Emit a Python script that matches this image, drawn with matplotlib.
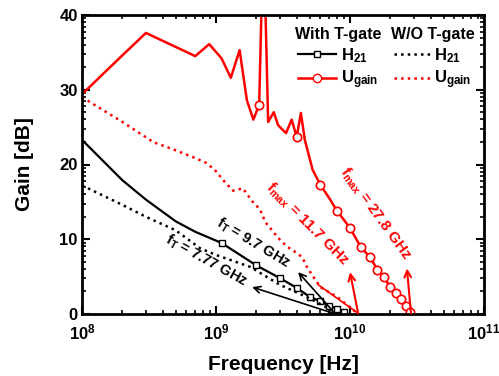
import matplotlib
matplotlib.use('Agg')
import matplotlib.pyplot as plt
from matplotlib.lines import Line2D
import numpy as np

plt.rcParams['font.family'] = ['Liberation Sans', 'DejaVu Sans']
plt.rcParams['font.weight'] = 'bold'
plt.rcParams['mathtext.fontset'] = 'custom'
plt.rcParams['mathtext.rm'] = 'Liberation Sans:bold'
plt.rcParams['mathtext.it'] = 'Liberation Sans:bold'
plt.rcParams['mathtext.bf'] = 'Liberation Sans:bold'
plt.rcParams['mathtext.default'] = 'rm'

# H21 with T-gate
f_h_t = [1e8, 2e8, 3e8, 5e8, 7e8, 1.1e9, 2e9, 3e9, 4e9, 5e9, 6e9, 7e9, 8e9, 9e9, 9.7e9]
g_h_t = [23.3, 17.9, 15.3, 12.4, 11.0, 9.5, 6.5, 4.8, 3.5, 2.3, 1.7, 1.1, 0.7, 0.3, 0.0]
mk_h_t = [5, 6, 7, 8, 9, 10, 11, 12, 13]

# Ugain with T-gate
f_u_t = [1e8, 2e8, 3e8, 7e8, 8.9e8, 1.1e9, 1.29e9, 1.5e9, 1.7e9, 1.9e9, 2.1e9,
         2.22e9, 2.3e9, 2.45e9, 2.7e9, 2.9e9, 3.0e9, 3.33e9, 3.67e9, 4.0e9, 4.3e9,
         4.6e9, 5.26e9, 6e9, 7e9, 8e9, 9e9, 1e10, 1.1e10, 1.2e10, 1.3e10, 1.4e10,
         1.5e10, 1.6e10, 1.7e10, 1.8e10, 1.9e10, 2.0e10, 2.1e10, 2.2e10, 2.3e10,
         2.4e10, 2.5e10, 2.6e10, 2.7e10, 2.8e10, 2.85e10]
g_u_t = [29.4, 34.6, 37.6, 34.5, 36.1, 34.2, 31.6, 35.3, 28.6, 26.0, 28.0,
         46.0, 46.0, 25.7, 27.0, 25.3, 25.0, 24.2, 26.0, 23.7, 26.9,
         23.3, 19.3, 17.3, 15.5, 13.8, 12.6, 11.5, 10.2, 9.0, 8.3, 7.6,
         6.8, 5.9, 5.5, 5.0, 4.2, 3.6, 3.2, 2.8, 2.4,
         2.0, 1.5, 1.1, 0.7, 0.3, 0.0]
mk_u_t = [10, 19, 23, 25, 27, 29, 31, 33, 35, 37, 39, 41, 43, 45]

# H21 without T-gate
f_h_o = [1e8, 2e8, 3e8, 5e8, 7.6e8, 1e9, 1.8e9, 3e9, 5e9, 7e9, 7.8e9]
g_h_o = [17.2, 14.6, 13.0, 11.2, 8.8, 7.9, 6.3, 3.9, 2.1, 0.7, 0.0]

# Ugain without T-gate
f_u_o = [1e8, 2e8, 3.4e8, 5e8, 6.7e8, 8.5e8, 1e9, 1.17e9, 1.34e9, 1.59e9, 1.86e9,
         2.13e9, 2.33e9, 2.54e9, 2.9e9, 3.4e9, 3.9e9, 4.4e9, 4.8e9, 6e9, 8e9, 1e10, 1.15e10]
g_u_o = [29.0, 25.7, 23.0, 21.9, 21.0, 20.2, 19.1, 17.6, 16.5, 16.8, 15.1,
         14.0, 12.3, 11.5, 10.2, 9.0, 8.3, 7.6, 6.2, 3.6, 2.3, 0.9, 0.0]

# extrapolation segment and arrows (base -> tip)
ext_f = [5.8e9, 1.17e10]
ext_g = [3.9, 0.0]
arrows_black = [((7.7e9, 0.1), (4.1e9, 5.6)), ((7.5e9, 0.1), (1.86e9, 3.6))]
arrows_red = [((1.15e10, 0.1), (1.0e10, 5.6)), ((2.85e10, 0.1), (2.66e10, 6.1))]

fig = plt.figure(figsize=(4.99, 3.76), dpi=100)
ax = fig.add_axes([82/499, 1-314/376, 402/499, 299/376])

ax.plot(f_h_t, g_h_t, '-', color='black', lw=1.6, marker='s', ms=5,
        mfc='white', mec='black', mew=1.0, markevery=mk_h_t)
ax.plot(f_u_t, g_u_t, '-', color='red', lw=1.8, marker='o', ms=6,
        mfc='white', mec='red', mew=1.2, markevery=mk_u_t)
ax.plot(f_h_o, g_h_o, ':', color='black', lw=1.8)
ax.plot(f_u_o, g_u_o, ':', color='red', lw=1.8)
ax.plot(ext_f, ext_g, '-', color='red', lw=1.2)

for (b, t) in arrows_black:
    ax.annotate('', xy=t, xytext=b,
                arrowprops=dict(arrowstyle='->', color='black', lw=1.2,
                                mutation_scale=12, shrinkA=0, shrinkB=0))
for (b, t) in arrows_red:
    ax.annotate('', xy=t, xytext=b,
                arrowprops=dict(arrowstyle='->', color='red', lw=1.5,
                                mutation_scale=12, shrinkA=0, shrinkB=0))

ax.text(1.89e9, 9.5, r'f$_\mathrm{T}$ = 9.7 GHz', rotation=-31, fontsize=10.5,
        ha='center', va='center', color='black')
ax.text(8.4e8, 7.1, r'f$_\mathrm{T}$ = 7.77 GHz', rotation=-29, fontsize=10.5,
        ha='center', va='center', color='black')
ax.text(4.78e9, 12.0, r'f$_\mathrm{max}$ = 11.7 GHz', rotation=-45, fontsize=11,
        ha='center', va='center', color='red')
ax.text(1.54e10, 13.4, r'f$_\mathrm{max}$ = 27.8 GHz', rotation=-54, fontsize=11,
        ha='center', va='center', color='red')

ax.set_xscale('log')
ax.set_xlim(1e8, 1e11)
ax.set_ylim(0, 40)
ax.set_yticks([0, 10, 20, 30, 40])
minor_y = [d + 10*np.log10(k) for d in range(0, 40, 10) for k in range(2, 10)]
ax.set_yticks(minor_y, minor=True)

ax.tick_params(which='both', direction='in', top=True, right=True, labelsize=12)
ax.tick_params(which='major', length=6, width=1.5)
ax.tick_params(axis='y', which='major', pad=3)
ax.tick_params(axis='x', which='major', pad=6)
ax.tick_params(which='minor', length=3, width=1.2)
for s in ax.spines.values():
    s.set_linewidth(2)

ax.set_xlabel('Frequency [Hz]', fontsize=15, fontweight='bold', labelpad=9)
ax.set_ylabel('Gain [dB]', fontsize=15, fontweight='bold', labelpad=18)

h1 = [Line2D([], [], color='black', lw=1.6, marker='s', ms=5, mfc='white', mec='black'),
      Line2D([], [], color='red', lw=1.8, marker='o', ms=6, mfc='white', mec='red')]
h2 = [Line2D([], [], color='black', lw=1.8, ls=':'),
      Line2D([], [], color='red', lw=1.8, ls=':')]
labels = [r'H$_{21}$', r'U$_{\mathrm{gain}}$']
leg1 = ax.legend(h1, labels, title='With T-gate', loc='upper left',
                 bbox_to_anchor=(0.50, 1.0), frameon=False, fontsize=12,
                 title_fontproperties={'weight': 'bold', 'size': 11.5},
                 handlelength=2.3, handletextpad=0.3, labelspacing=0.25,
                 borderpad=0.2)
ax.add_artist(leg1)
ax.legend(h2, labels, title='W/O T-gate', loc='upper left',
          bbox_to_anchor=(0.74, 1.0), frameon=False, fontsize=12,
          title_fontproperties={'weight': 'bold', 'size': 11.5},
          handlelength=2.3, handletextpad=0.1, labelspacing=0.25,
          borderpad=0.2)

fig.savefig('out.png', dpi=100)
